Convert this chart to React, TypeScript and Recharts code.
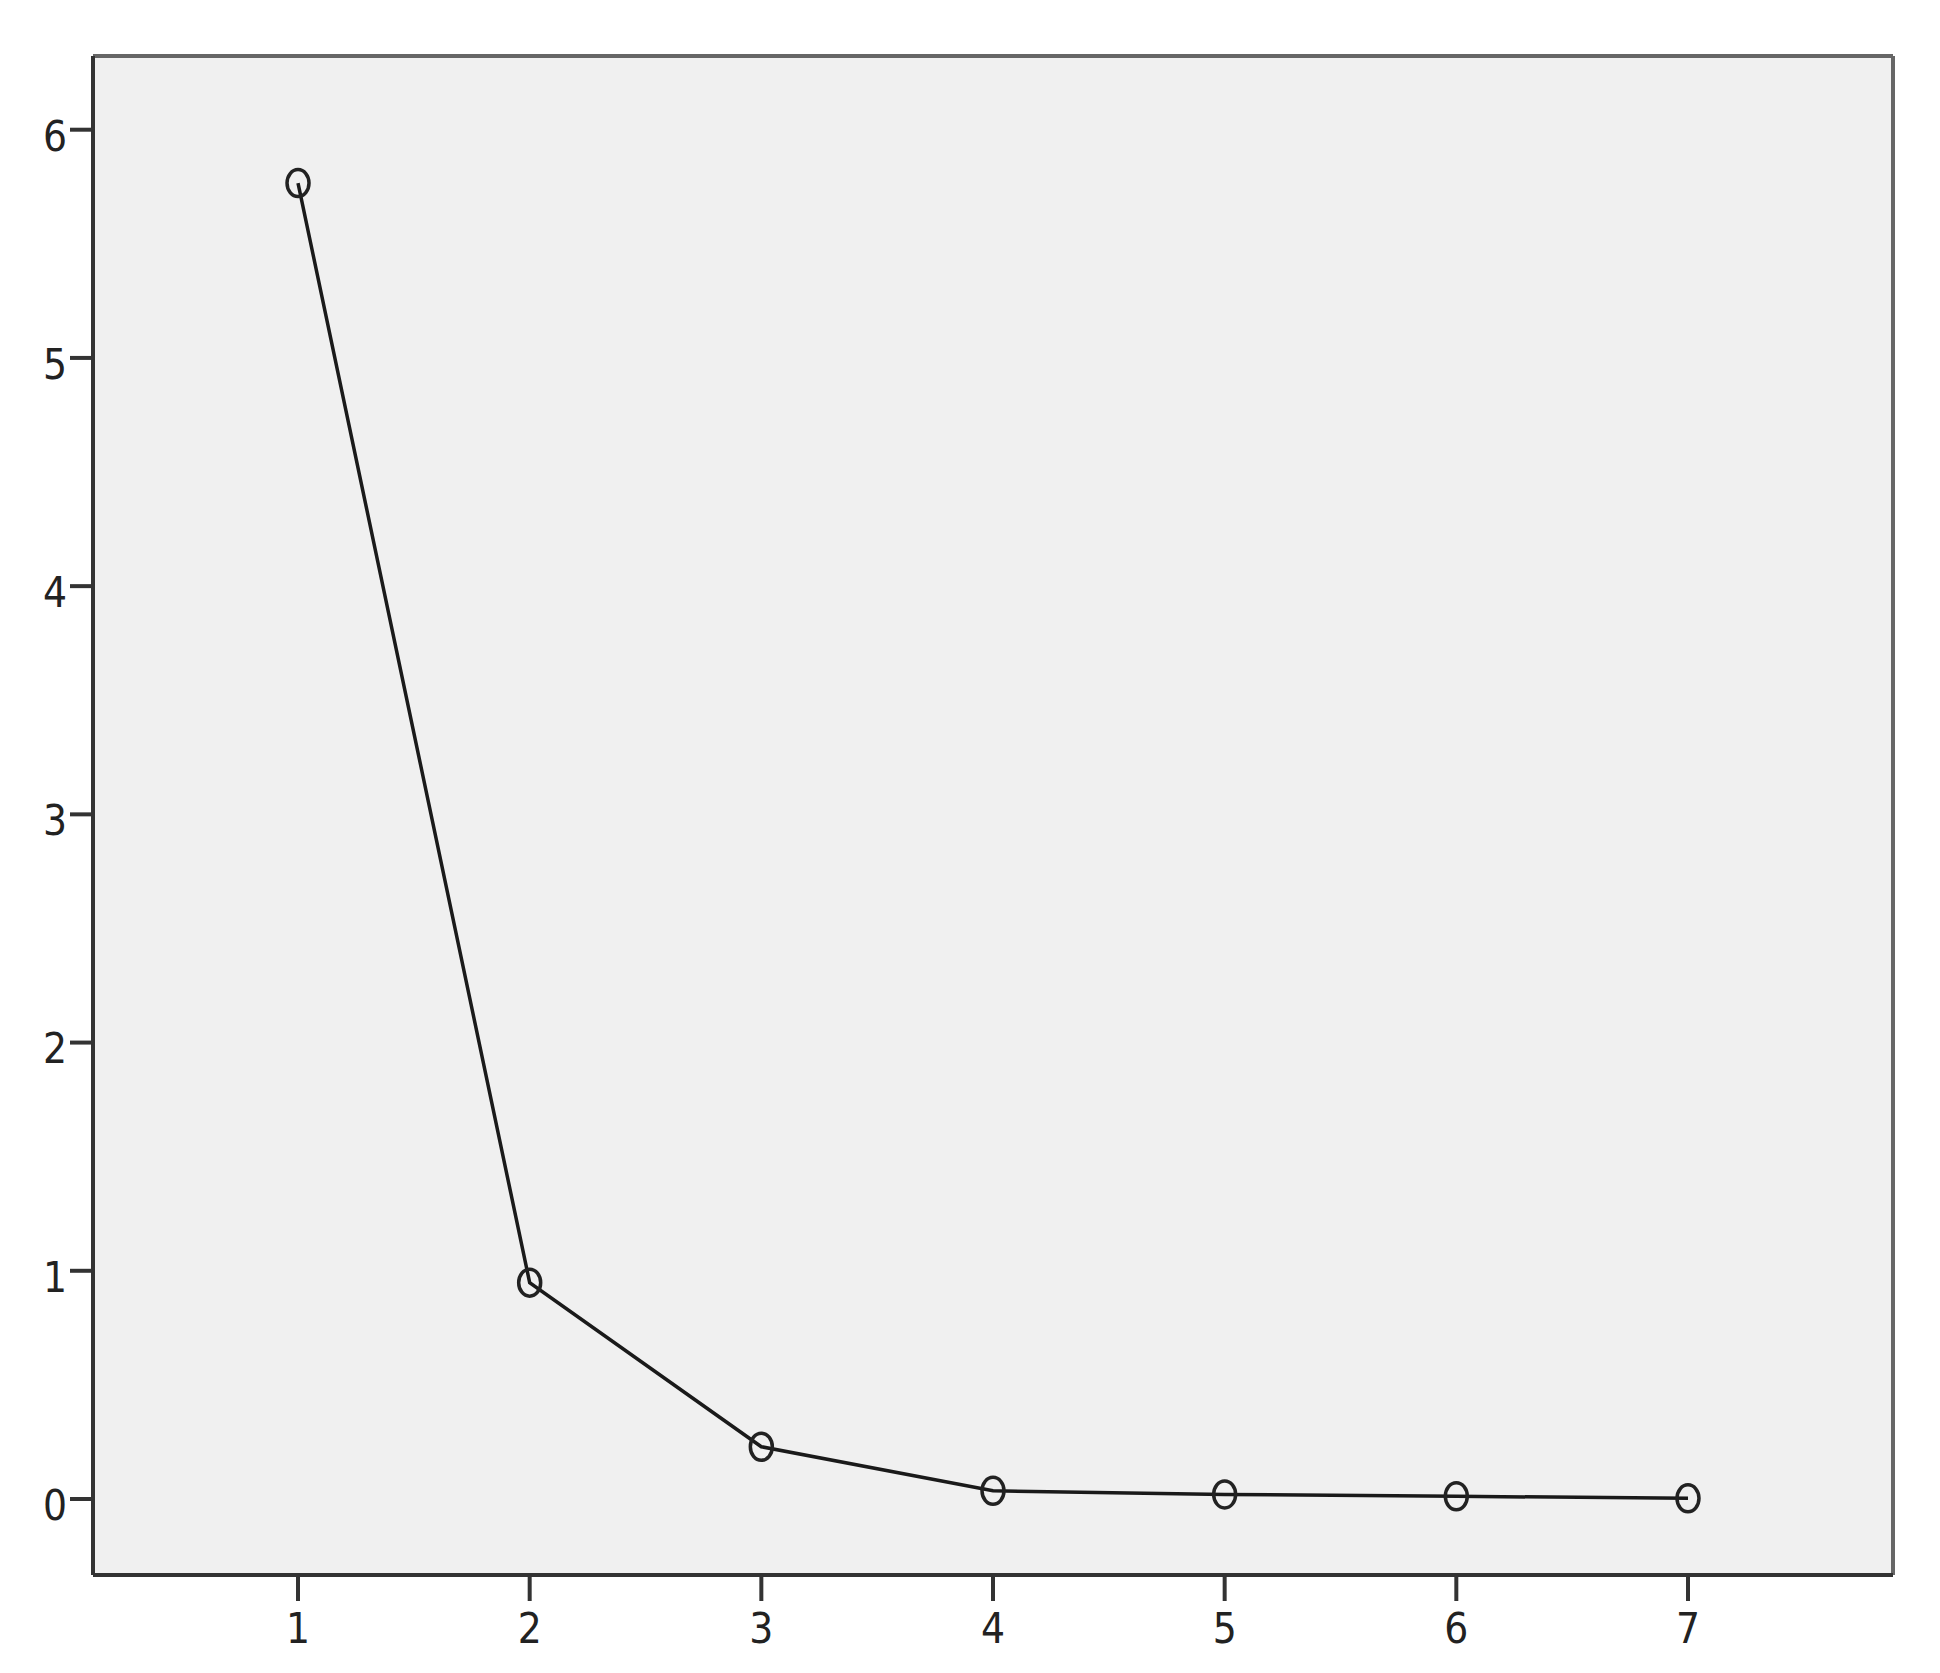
import { CartesianGrid, Line, LineChart, ReferenceLine, XAxis, YAxis } from 'recharts';

// scree plot: component number vs eigenvalue
const components = [1, 2, 3, 4, 5, 6, 7];
const eigenvalues = [5.766, 0.948, 0.229, 0.036, 0.02, 0.012, 0.003];
const xTicks = [1, 2, 3, 4, 5, 6, 7];
const yTicks = [0, 1, 2, 3, 4, 5, 6];

const X_DOMAIN: [number, number] = [0.115, 7.885];
const Y_DOMAIN: [number, number] = [-0.333, 6.323];

const rows = components.map((c, i) => ({ component: c, value: eigenvalues[i] }));

const FONT = "'Liberation Sans Narrow', 'DejaVu Sans Condensed', 'Liberation Sans', sans-serif";
const tickStyle = { fontSize: 42, fill: '#222', fontFamily: FONT };

function RingDot(props: { cx?: number; cy?: number; index?: number }) {
  const { cx, cy, index } = props;
  if (cx == null || cy == null) return null;
  return (
    <ellipse key={index} cx={cx} cy={cy} rx={11} ry={13.5} fill="none" stroke="#222" strokeWidth={3.5} />
  );
}

export default function App() {
  return (
    <div style={{ position: 'absolute', left: 0, top: 0, background: '#fff' }}>
      <LineChart
        width={1940}
        height={1673}
        data={rows}
        margin={{ top: 56, right: 47, bottom: 38, left: 0 }}
      >
        <CartesianGrid horizontal={false} vertical={false} fill="#f0f0f0" />
        <XAxis
          dataKey="component"
          type="number"
          domain={X_DOMAIN}
          ticks={xTicks}
          allowDataOverflow
          height={60}
          tick={tickStyle}
          tickSize={26}
          tickMargin={12}
          tickLine={{ stroke: '#333', strokeWidth: 4 }}
          axisLine={{ stroke: '#333', strokeWidth: 4 }}
        />
        <YAxis
          type="number"
          domain={Y_DOMAIN}
          ticks={yTicks}
          allowDataOverflow
          width={93}
          tick={{ ...tickStyle, dy: 6 }}
          tickSize={23}
          tickMargin={3}
          tickLine={{ stroke: '#333', strokeWidth: 4 }}
          axisLine={{ stroke: '#333', strokeWidth: 4 }}
        />
        {/* frame: top and right edges */}
        <ReferenceLine y={Y_DOMAIN[1]} stroke="#666" strokeWidth={4} ifOverflow="visible" />
        <ReferenceLine x={X_DOMAIN[1]} stroke="#666" strokeWidth={4} ifOverflow="visible" />
        <Line
          type="linear"
          dataKey="value"
          stroke="#1a1a1a"
          strokeWidth={3.5}
          dot={<RingDot />}
          activeDot={false}
          isAnimationActive={false}
        />
      </LineChart>
    </div>
  );
}
